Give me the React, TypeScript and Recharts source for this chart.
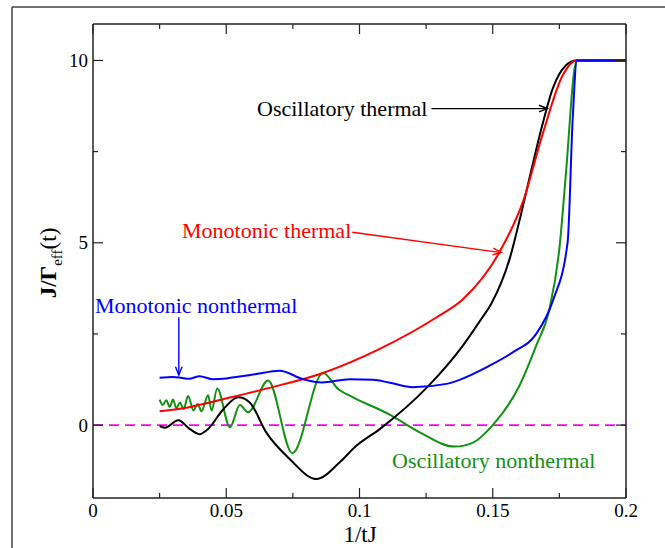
import { LineChart, Line, XAxis, YAxis, ReferenceLine } from 'recharts'

// curves: [1/tJ, J/Teff]
const oscThermal = [
  [0.025, -0.03], [0.027, -0.07], [0.032, 0.13], [0.0365, -0.12], [0.04, -0.25], [0.043, -0.12],
  [0.049, 0.44], [0.0545, 0.76], [0.0588, 0.62], [0.065, -0.2], [0.0738, -0.93], [0.0838, -1.48],
  [0.0926, -1.02], [0.0988, -0.57], [0.1076, -0.11], [0.1257, 1.06], [0.1388, 2.18], [0.1457, 2.91],
  [0.1494, 3.32], [0.1565, 4.6], [0.1605, 5.75], [0.1645, 7.0], [0.1685, 8.2], [0.1725, 9.23],
  [0.1775, 9.87], [0.1813, 10], [0.2, 10],
]
const monoThermal = [
  [0.025, 0.38], [0.036, 0.49], [0.0488, 0.71], [0.065, 1.0], [0.0863, 1.43], [0.1076, 2.09],
  [0.1288, 2.95], [0.1388, 3.45], [0.1525, 4.74], [0.1613, 6.12], [0.1688, 8.0], [0.1763, 9.6],
  [0.1813, 10], [0.2, 10],
]
const monoNonthermal = [
  [0.025, 1.3], [0.03, 1.32], [0.033, 1.3], [0.036, 1.27], [0.04, 1.34], [0.045, 1.26], [0.05, 1.28],
  [0.055, 1.33], [0.0613, 1.4], [0.07, 1.49], [0.0788, 1.26], [0.086, 1.17], [0.0963, 1.26],
  [0.105, 1.24], [0.111, 1.17], [0.12, 1.04], [0.1326, 1.13], [0.1488, 1.63], [0.1576, 2.0],
  [0.1663, 2.5], [0.1725, 3.4], [0.1781, 5.02], [0.18, 8.4], [0.1816, 10], [0.2, 10],
]
const oscNonthermal = [
  [0.025, 0.7], [0.0262, 0.55], [0.0275, 0.68], [0.0288, 0.5], [0.03, 0.7], [0.0313, 0.46],
  [0.0326, 0.62], [0.034, 0.44], [0.0357, 0.8], [0.0377, 0.4], [0.0393, 0.58], [0.0407, 0.38],
  [0.0432, 0.82], [0.0445, 0.4], [0.0466, 1.0], [0.0514, -0.06], [0.0551, 0.55], [0.0582, 0.35],
  [0.0657, 1.22], [0.0748, -0.77], [0.0863, 1.43], [0.092, 0.99], [0.0976, 0.76], [0.111, 0.3],
  [0.1226, -0.2], [0.1357, -0.59], [0.1426, -0.48], [0.15, 0.0], [0.16, 1.08], [0.1663, 2.18],
  [0.1713, 3.19], [0.175, 4.84], [0.1776, 7.03], [0.1807, 9.78], [0.1816, 10], [0.2, 10],
]

const xTicks = [0, 0.025, 0.05, 0.075, 0.1, 0.125, 0.15, 0.175, 0.2]
const yTicks = [0, 2.5, 5, 7.5, 10]

// arrows from the labels to the curves
const arrowOscThermal = [[0.127, 8.68], [0.1705, 8.68]]
const arrowMonoThermal = [[0.0973, 5.29], [0.1532, 4.73]]
const arrowMonoNonthermal = [[0.0322, 2.96], [0.0322, 1.37]]

const toPts = (a: number[][]) => a.map(([x, y]) => ({ x, y }))

const FONT = '"Liberation Serif", "Times New Roman", serif'
const AX = '#222'

const isMajor = (v: number, step: number) => Math.abs(v / step - Math.round(v / step)) < 1e-6

const BottomTick = (p: any) => {
  const { x, y, payload } = p
  const major = isMajor(payload.value, 0.05)
  return (
    <g>
      <line x1={x} x2={x} y1={y} y2={y - (major ? 10 : 5)} stroke={AX} strokeWidth={1.2} />
      {major && (
        <text x={x} y={y + 19} textAnchor="middle" fontFamily={FONT} fontSize={19} fill="#000">
          {String(payload.value)}
        </text>
      )}
    </g>
  )
}
const TopTick = (p: any) => {
  const { x, y, payload } = p
  const major = isMajor(payload.value, 0.05)
  return <line x1={x} x2={x} y1={y} y2={y + (major ? 10 : 5)} stroke={AX} strokeWidth={1.2} />
}
const LeftTick = (p: any) => {
  const { x, y, payload } = p
  const major = isMajor(payload.value, 5)
  return (
    <g>
      <line x1={x} x2={x + (major ? 10 : 5)} y1={y} y2={y} stroke={AX} strokeWidth={1.2} />
      {major && (
        <text x={x - 5} y={y + 6.5} textAnchor="end" fontFamily={FONT} fontSize={19} fill="#000">
          {String(payload.value)}
        </text>
      )}
    </g>
  )
}
const RightTick = (p: any) => {
  const { x, y, payload } = p
  const major = isMajor(payload.value, 5)
  return <line x1={x} x2={x - (major ? 10 : 5)} y1={y} y2={y} stroke={AX} strokeWidth={1.2} />
}

const arrowShape = (color: string) => (p: any) => {
  const { x1, y1, x2, y2 } = p
  const a = Math.atan2(y2 - y1, x2 - x1)
  const L = 9
  const w = 0.38
  const d = `M${x2 - L * Math.cos(a - w)},${y2 - L * Math.sin(a - w)} L${x2},${y2} L${x2 - L * Math.cos(a + w)},${y2 - L * Math.sin(a + w)}`
  return (
    <g>
      <line x1={x1} y1={y1} x2={x2} y2={y2} stroke={color} strokeWidth={1.4} />
      <path d={d} fill="none" stroke={color} strokeWidth={1.4} />
    </g>
  )
}

export default function App() {
  return (
    <div style={{ position: 'absolute', left: 0, top: 0, width: 665, height: 548, background: '#fff' }}>
      <LineChart width={665} height={548} margin={{ top: 0, right: 0, bottom: 0, left: 0 }}>
        <XAxis
          xAxisId={0}
          dataKey="x"
          type="number"
          domain={[0, 0.2]}
          ticks={xTicks}
          interval={0}
          height={50}
          tickSize={0}
          tickMargin={0}
          tickLine={false}
          tick={(p: any) => <BottomTick {...p} />}
          axisLine={{ stroke: AX, strokeWidth: 1.5 }}
          allowDataOverflow
        />
        <XAxis
          xAxisId="top"
          orientation="top"
          dataKey="x"
          type="number"
          domain={[0, 0.2]}
          ticks={xTicks}
          interval={0}
          height={24}
          tickSize={0}
          tickMargin={0}
          tickLine={false}
          tick={(p: any) => <TopTick {...p} />}
          axisLine={{ stroke: AX, strokeWidth: 1.5 }}
          allowDataOverflow
        />
        <YAxis
          yAxisId={0}
          type="number"
          domain={[-2, 11]}
          ticks={yTicks}
          interval={0}
          width={93}
          tickSize={0}
          tickMargin={0}
          tickLine={false}
          tick={(p: any) => <LeftTick {...p} />}
          axisLine={{ stroke: AX, strokeWidth: 1.5 }}
          allowDataOverflow
        />
        <YAxis
          yAxisId="right"
          orientation="right"
          type="number"
          domain={[-2, 11]}
          ticks={yTicks}
          interval={0}
          width={39}
          tickSize={0}
          tickMargin={0}
          tickLine={false}
          tick={(p: any) => <RightTick {...p} />}
          axisLine={{ stroke: AX, strokeWidth: 1.5 }}
          allowDataOverflow
        />
        <ReferenceLine y={0} stroke="#ff00ff" strokeWidth={1.6} strokeDasharray="10 6" />
        <Line data={toPts(oscNonthermal)} dataKey="y" type="monotone" stroke="#119111" strokeWidth={2} dot={false} isAnimationActive={false} />
        <Line data={toPts(oscThermal)} dataKey="y" type="monotone" stroke="#000000" strokeWidth={2} dot={false} isAnimationActive={false} />
        <Line data={toPts(monoThermal)} dataKey="y" type="monotone" stroke="#ff0000" strokeWidth={2} dot={false} isAnimationActive={false} />
        <Line data={toPts(monoNonthermal)} dataKey="y" type="monotone" stroke="#0000ff" strokeWidth={2} dot={false} isAnimationActive={false} />
        <ReferenceLine segment={toPts(arrowOscThermal)} shape={arrowShape('#000')} />
        <ReferenceLine segment={toPts(arrowMonoThermal)} shape={arrowShape('#ff0000')} />
        <ReferenceLine segment={toPts(arrowMonoNonthermal)} shape={arrowShape('#0000ff')} />
      </LineChart>
      <svg width={665} height={548} style={{ position: 'absolute', left: 0, top: 0, pointerEvents: 'none' }}>
        <line x1={12} y1={7} x2={665} y2={7} stroke="#444" strokeWidth={1.5} />
        <line x1={12} y1={7} x2={12} y2={548} stroke="#444" strokeWidth={1.5} />
        <g fontFamily={FONT} fontSize={22}>
          <text x={257} y={116} fill="#000">Oscillatory thermal</text>
          <text x={182} y={238} fill="#ff0000">Monotonic thermal</text>
          <text x={95} y={313} fill="#0000ff">Monotonic nonthermal</text>
          <text x={392} y={468} fill="#119111">Oscillatory nonthermal</text>
        </g>
        <text x={360} y={542} textAnchor="middle" fontFamily={FONT} fontSize={23} fill="#000">1/tJ</text>
        <text x={56} y={263} textAnchor="middle" fontFamily={FONT} fontSize={23} fill="#000" transform="rotate(-90, 56, 263)">
          <tspan fontWeight="bold">J/Γ</tspan>
          <tspan fontSize={15} dy={6}>eff</tspan>
          <tspan dy={-6}>(t)</tspan>
        </text>
      </svg>
    </div>
  )
}
